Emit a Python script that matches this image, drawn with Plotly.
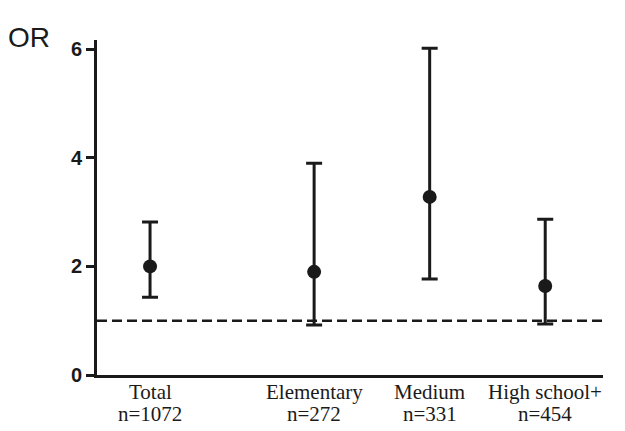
import plotly.graph_objects as go

group_names = ["Total", "Elementary", "Medium", "High school+"]
group_n = ["n=1072", "n=272", "n=331", "n=454"]
odds_ratio = [2.00, 1.90, 3.28, 1.64]
ci_lower = [1.43, 0.92, 1.77, 0.94]
ci_upper = [2.82, 3.90, 6.02, 2.87]
reference_or = 1
y_ticks = [0, 2, 4, 6]

# horizontal placement of groups (layout, not data)
x_pos = [0, 1.42, 2.42, 3.42]

err_plus = [u - p for u, p in zip(ci_upper, odds_ratio)]
err_minus = [p - l for p, l in zip(odds_ratio, ci_lower)]

col = "#1a1a1a"
serif = "Liberation Serif, Times New Roman, serif"
sans = "Arial, Liberation Sans, sans-serif"

fig = go.Figure()
fig.add_trace(go.Scatter(
    x=x_pos, y=odds_ratio, mode="markers",
    marker=dict(size=14, color=col),
    error_y=dict(type="data", symmetric=False, array=err_plus, arrayminus=err_minus,
                 color=col, thickness=3, width=8),
    showlegend=False,
))
fig.add_shape(type="line", xref="paper", x0=0, x1=1, yref="y", y0=reference_or, y1=reference_or,
              line=dict(color=col, width=2.5, dash="10px,5px"))

annotations = [dict(text="OR", xref="paper", yref="paper", x=-0.18, y=1.0, xanchor="left",
                    yanchor="bottom", yshift=-15, showarrow=False,
                    font=dict(family=sans, size=28, color=col))]
for xp, name, n in zip(x_pos, group_names, group_n):
    annotations.append(dict(text=name, x=xp, xref="x", y=0, yref="paper", yanchor="middle",
                            yshift=-17, showarrow=False,
                            font=dict(family=serif, size=21, color=col)))
    annotations.append(dict(text=n, x=xp, xref="x", y=0, yref="paper", yanchor="middle",
                            yshift=-39, showarrow=False,
                            font=dict(family=serif, size=21, color=col)))

fig.update_layout(
    width=625, height=431,
    margin=dict(l=97, r=22, t=40, b=56),
    plot_bgcolor="white", paper_bgcolor="white",
    xaxis=dict(range=[-0.459, 3.92], showticklabels=False, showgrid=False,
               zeroline=False, showline=True, linecolor=col, linewidth=3, ticks=""),
    yaxis=dict(range=[0, 6.17], tickvals=y_ticks, showgrid=False, zeroline=False,
               showline=True, linecolor=col, linewidth=3, ticks="outside", ticklen=8,
               tickwidth=2.5, tickcolor=col,
               tickfont=dict(family=sans, size=20, color=col, weight="bold")),
    annotations=annotations,
)
fig.write_html("out.html", config={"displayModeBar": False},
               post_script="document.body.style.margin='0';")
